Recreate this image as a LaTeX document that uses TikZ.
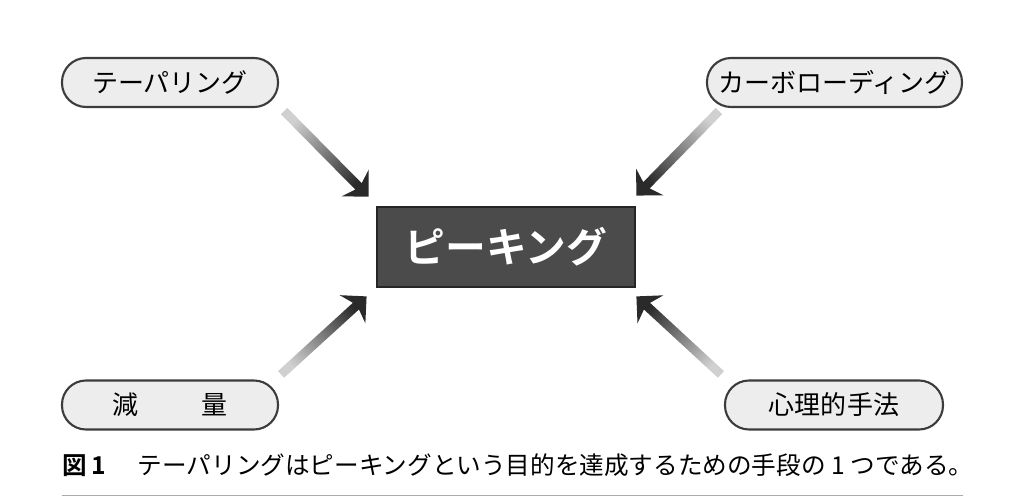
\documentclass[tikz,border=0pt]{standalone}
\usepackage{fontspec}
\setmainfont{Noto Sans CJK JP}[BoldFont=* Bold]
\usepackage{tikz}
\usetikzlibrary{calc,positioning}
\definecolor{BoxDark}{HTML}{4B4B4B}
\definecolor{PillFill}{HTML}{EDEDED}
\definecolor{PillLine}{HTML}{3C3C3C}
\definecolor{ArrowDark}{HTML}{2A2A2A}
\definecolor{ArrowLight}{HTML}{D0D0D0}
\definecolor{RuleGray}{HTML}{ABABAB}

% shaded block arrow: start, tip, shading angle
\newcommand{\gradarrow}[3]{%
  \shade[arrshade, shading angle=#3]
    ($(#1)!0.045cm!90:(#2)$) -- ($(#2)!0.151cm!-17.35:(#1)$)
    -- ($(#2)!0.27cm!-45:(#1)$) -- (#2) -- ($(#2)!0.27cm!45:(#1)$)
    -- ($(#2)!0.151cm!17.35:(#1)$) -- ($(#1)!0.045cm!-90:(#2)$) -- cycle;}

\begin{document}
\begin{tikzpicture}[
  % goal box in the middle (dark filled)
  goal/.style={draw=black!85, fill=BoxDark, line width=0.8pt,
               minimum width=2.58cm, minimum height=0.80cm,
               text=white, font=\fontsize{11.6}{13}\selectfont\bfseries},
  % means pill (light, rounded)
  means/.style={draw=PillLine, fill=PillFill, line width=0.6pt,
                rounded corners=0.24cm, minimum height=0.49cm,
                inner sep=0pt, font=\fontsize{7.4}{9}\selectfont},
  % arrow gradient
  arrshade/.style={top color=ArrowDark, bottom color=ArrowLight},
]
\useasboundingbox (0,0) rectangle (10.24,-4.97);

%% -- column x and row y -------------------------------------------------
\def\xl{1.70}   % left pills
\def\xr{8.34}   % right pills
\def\yt{-0.825} % top row
\def\yb{-4.05}  % bottom row

%% -- goal ------------------------------------------------------------------
\node[goal] (peak) at (5.06,-2.47) {ピーキング};

%% -- means pills -----------------------------------------------------------
\node[means, minimum width=2.16cm] (taper) at (\xl,\yt) {テーパリング};
\node[means, minimum width=2.55cm] (carbo) at (\xr+0.005,\yt) {カーボローディング};
\node[means, minimum width=2.16cm] (cut)   at (\xl,\yb) {減\hspace{2.4em}量};
\node[means, minimum width=2.18cm] (mind)  at (\xr,\yb) {心理的手法};

%% -- arrow ends --------------------------------------------------------------
\coordinate (taperS) at ($(taper.south east)+(0.05,-0.03)$);
\coordinate (taperE) at ($(peak.north west)+(-0.07,0.09)$);
\coordinate (carboS) at ($(carbo.south west)+(0.13,-0.03)$);
\coordinate (carboE) at ($(peak.north east)+(0,0.10)$);
\coordinate (cutS)   at ($(cut.north east)+(0.02,0.05)$);
\coordinate (cutE)   at ($(peak.south west)+(-0.09,-0.08)$);
\coordinate (mindS)  at ($(mind.north west)+(-0.03,0.05)$);
\coordinate (mindE)  at ($(peak.south east)+(0,-0.08)$);

%% -- arrows into the goal ----------------------------------------------------
\foreach \s/\e/\ang in {taperS/taperE/-135,carboS/carboE/135,cutS/cutE/-45,mindS/mindE/45}
  \gradarrow{\s}{\e}{\ang};

%% -- caption and rule ----------------------------------------------------------
\node[anchor=west, inner sep=0pt, font=\fontsize{7.0}{8}\selectfont] (cap) at (0.62,-4.65)
  {{\bfseries 図\,1}\hspace{1.3em}テーパリングはピーキングという目的を達成するための手段の 1 つである。};
\draw[RuleGray, line width=0.5pt] (0.62,-4.955) -- (9.63,-4.955);

\end{tikzpicture}
\end{document}
